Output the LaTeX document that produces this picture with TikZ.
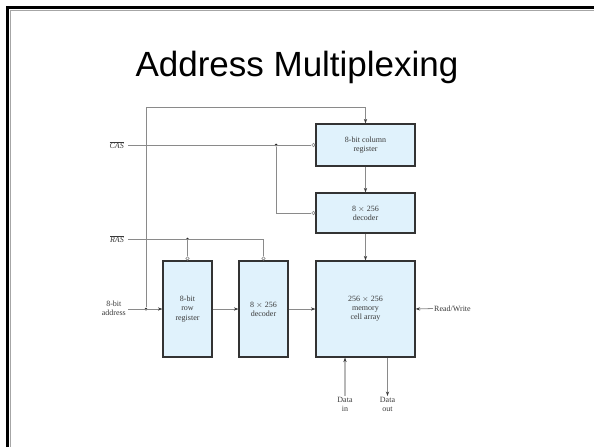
\documentclass[tikz,border=0pt]{standalone}
\usepackage{fontspec}
\setmainfont{Liberation Serif}
\newfontfamily\titlefont{Liberation Sans}
\usetikzlibrary{arrows.meta,positioning,calc}
\definecolor{boxfill}{HTML}{E0F2FC}
\definecolor{boxedge}{HTML}{333333}
\definecolor{wire}{HTML}{8A8A8A}
\definecolor{ink}{HTML}{3A3A3A}
\tikzset{
  blk/.style={draw=boxedge, line width=1.1pt, fill=boxfill, inner sep=1pt,
    align=center, font=\fontsize{8}{9.2}\selectfont, text=ink},
  wr/.style={draw=wire, line width=0.8pt},
  arr/.style={wr, -{Stealth[length=4.5pt,width=3.2pt,color=ink]}},
  bub/.style={circle, draw=wire, line width=0.6pt, fill=white, inner sep=0pt, minimum size=3.4pt},
  jdot/.style={circle, fill=black!85, inner sep=0pt, minimum size=3pt},
  lbl/.style={font=\fontsize{8}{9.2}\selectfont, text=ink, align=center, inner sep=1pt},
}
\begin{document}
\begin{tikzpicture}[x=1pt,y=-1pt]
\useasboundingbox (0,0) rectangle (594,447);
% slide frame
\draw[black, line width=2.6pt] (7.3,447) -- (7.3,7.3) -- (594,7.3);
\draw[black!35, line width=1pt] (10,447) -- (10,10) -- (594,10);
% title
\node[font=\titlefont\fontsize{35}{40}\selectfont] (title) at (297,67) {Address Multiplexing};

% blocks
\node[blk, minimum width=49pt, minimum height=96pt] (rowreg) at (187.5,309) {8-bit\\row\\register};
\node[blk, minimum width=49pt, minimum height=96pt] (rowdec) at (263.5,309) {8 $\times$ 256\\decoder};
\node[blk, minimum width=99pt, minimum height=96pt] (mem) at (365.5,309) {256 $\times$ 256\\memory\\cell array};
\node[blk, minimum width=99pt, minimum height=42pt] (colreg) at (365.5,145) {8-bit column\\register};
\node[blk, minimum width=99pt, minimum height=40pt] (coldec) at (365.5,213) {8 $\times$ 256\\decoder};

% active-low inputs
\node[bub, anchor=east] (bcr) at (colreg.west) {};
\node[bub, anchor=east] (bcd) at (coldec.west) {};
\node[bub, anchor=south] (brr) at (rowreg.north) {};
\node[bub, anchor=south] (brd) at (rowdec.north) {};

% signal labels
\node[lbl, anchor=east] (cas) at (125,145) {$\overline{\textit{CAS}}$};
\node[lbl, anchor=east] (ras) at (125,239) {$\overline{\textit{RAS}}$};
\node[lbl, anchor=east] (addr) at (127,308.5) {8-bit\\address};
\node[lbl, anchor=west] (rw) at (433,308.5) {Read/Write};
\node[lbl, anchor=north] (din) at (345,396) {Data\\in};
\node[lbl, anchor=north] (dout) at (387.5,396) {Data\\out};

% CAS distribution
\coordinate (casin) at (128,145);
\node[jdot] (casj) at (276,145) {};
\draw[wr] (casin) -- (bcr);
\draw[wr] (casj) |- (bcd);

% RAS distribution
\coordinate (rasin) at (128,239);
\node[jdot] (rasj) at (187.5,239) {};
\draw[wr] (rasin) -| (brd);
\draw[wr] (rasj) -- (brr);

% multiplexed address bus
\coordinate (addrin) at (128,309);
\node[jdot] (addrj) at (146,309) {};
\coordinate (topbend) at (146,107);
\draw[arr] (addrin) -- (rowreg.west);
\draw[arr] (addrj) -- (topbend) -| (colreg.north);

% data path
\draw[arr] (rowreg.east) -- (rowdec.west);
\draw[arr] (rowdec.east) -- (mem.west);
\draw[arr] (colreg.south) -- (coldec.north);
\draw[arr] (coldec.south) -- (mem.north);
\draw[arr] (rw.west) -- (mem.east);
\draw[arr, draw=black!28, line width=1.4pt] (din.north) -- (din.north |- mem.south);
\draw[arr] (dout.north |- mem.south) -- (dout.north);
\end{tikzpicture}
\end{document}
